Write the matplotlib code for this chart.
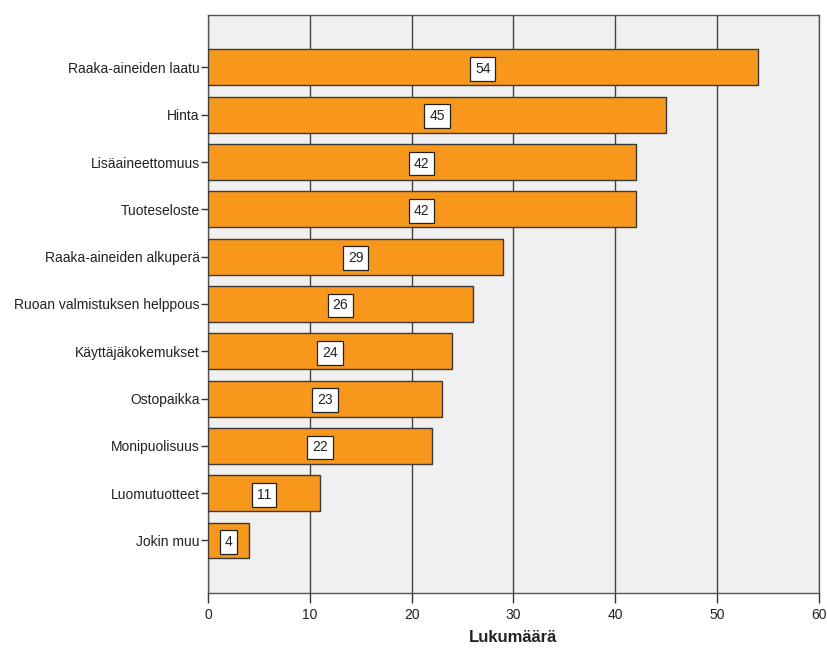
import matplotlib.pyplot as plt
import numpy as np

plt.rcParams['font.family'] = ['Liberation Sans', 'DejaVu Sans']

categories = ['Raaka-aineiden laatu', 'Hinta', 'Lisäaineettomuus', 'Tuoteseloste',
              'Raaka-aineiden alkuperä', 'Ruoan valmistuksen helppous',
              'Käyttäjäkokemukset', 'Ostopaikka', 'Monipuolisuus',
              'Luomutuotteet', 'Jokin muu']
counts = [54, 45, 42, 42, 29, 26, 24, 23, 22, 11, 4]

fig = plt.figure(figsize=(8.27, 6.5), dpi=100)
ax = fig.add_axes([0.2515, 0.0877, 0.7385, 0.8893])
ax.set_facecolor('#f0f0f0')

pos = np.arange(len(categories))
ax.barh(pos, counts, height=0.76, color='#f7981d', edgecolor='#3a3a3a',
        linewidth=1.0, zorder=3)

for y, v in zip(pos, counts):
    ax.text(v / 2, y, str(v), ha='center', va='center_baseline', fontsize=10,
            color='#222222', zorder=4,
            bbox=dict(boxstyle='square,pad=0.35', facecolor='white',
                      edgecolor='#222222', linewidth=0.9))

ax.set_xlim(0, 60)
ax.set_ylim(11.11, -1.11)
ax.set_xticks(range(0, 61, 10))
ax.set_yticks(pos)
ax.set_yticklabels(categories, fontsize=10, color='#222222')
ax.tick_params(axis='x', labelsize=10, labelcolor='#222222', length=7,
               width=1, color='#333333')
ax.tick_params(axis='y', length=5, width=1, color='#333333', pad=1)
ax.xaxis.grid(True, color='#444444', linewidth=1.0, zorder=1)
ax.set_axisbelow(True)
for s in ax.spines.values():
    s.set_color('#555555')
    s.set_linewidth(1.0)

ax.set_xlabel('Lukumäärä', fontsize=12, fontweight='bold', color='#222222',
              labelpad=6)

fig.savefig('out.png', dpi=100)
